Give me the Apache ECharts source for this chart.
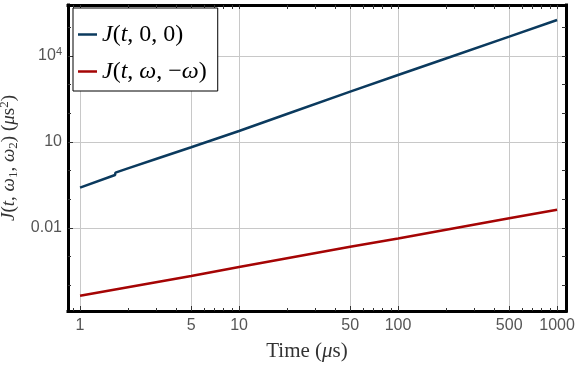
<!DOCTYPE html>
<html>
<head>
<meta charset="utf-8">
<script src="https://cdn.jsdelivr.net/npm/echarts@6/dist/echarts.min.js"></script>
<style>
  html, body { margin: 0; padding: 0; background: #fff; }
  #chart { width: 576px; height: 366px; }
</style>
</head>
<body>
<div id="chart"></div>
<script>
// values (log-log plot)
const blueTimes = [1, 1.66, 1.67, 2, 3, 5, 10, 20, 50, 100, 200, 500, 1000];
const blueValues = [0.255, 0.706, 0.849, 1.2, 2.54, 6.53, 24.2, 94.2, 569, 2173, 8166, 47100, 180000];
const redTimes = [1, 5, 10, 50, 100, 500, 1000];
const redValues = [4.3e-5, 2.12e-4, 4.37e-4, 2.23e-3, 4.3e-3, 0.0218, 0.043];

const xMajorTicks = [1, 5, 10, 50, 100, 500, 1000];
const xMinorTicks = [0.9, 2, 3, 4, 6, 7, 8, 9, 20, 30, 40, 60, 70, 80, 90,
  200, 300, 400, 600, 700, 800, 900];
const yMajorTicks = [0.01, 10, 1e4];
const yMajorLabels = ['0.01', '10', '{b|10}{s|4}'];
const yMinorTicks = [1e-4, 1e-3, 0.1, 1, 100, 1000, 1e5];

const seriesNames = ['J(t, 0, 0)', 'J(t, ω, −ω)'];

const xRange = [0.84, 1138];
const yRange = [1.27e-5, 6.0e5];

const lg = Math.log10;
const toLog = (xs, ys) => xs.map((x, i) => [lg(x), lg(ys[i])]);

const frame = { show: true, onZero: false, lineStyle: { color: '#000', width: 3, cap: 'square' } };
const labelColor = '#555';
const titleColor = '#333';
const serif = 'Liberation Serif';

const chart = echarts.init(document.getElementById('chart'));

const xBase = { type: 'value', min: lg(xRange[0]), max: lg(xRange[1]), gridIndex: 0 };
const yBase = { type: 'value', min: lg(yRange[0]), max: lg(yRange[1]), gridIndex: 0 };
const noLine = { show: false, onZero: false };

chart.setOption({
  animation: false,
  grid: { left: 68, right: 10, top: 5, bottom: 55, outerBoundsMode: 'none', containLabel: false },
  legend: {
    left: 73,
    top: 8,
    orient: 'vertical',
    backgroundColor: '#fff',
    borderColor: '#000',
    borderWidth: 1,
    borderRadius: 0,
    padding: [11, 11, 4, 5],
    itemGap: 6,
    itemWidth: 19,
    itemHeight: 2.5,
    icon: 'rect',
    formatter: function (name) {
      return name === seriesNames[0]
        ? '{i|J}({i|t}, 0, 0)'
        : '{i|J}({i|t}, {i|ω}, −{i|ω})';
    },
    textStyle: {
      fontFamily: serif,
      fontSize: 24,
      color: '#000',
      lineHeight: 31,
      rich: {
        i: { fontFamily: serif, fontSize: 24, fontStyle: 'italic', color: '#000', lineHeight: 31 }
      }
    },
    data: seriesNames
  },
  xAxis: [
    Object.assign({}, xBase, {
      position: 'bottom',
      name: 'Time ({i|μ}s)',
      nameLocation: 'middle',
      nameGap: 30,
      nameTextStyle: {
        fontFamily: serif, fontSize: 21, color: titleColor, padding: [0, 20, 0, 0],
        rich: { i: { fontFamily: serif, fontSize: 21, fontStyle: 'italic', color: titleColor } }
      },
      axisLine: frame,
      axisTick: { inside: true, length: 5, lineStyle: { color: '#333' }, customValues: xMajorTicks.map(lg) },
      axisLabel: {
        customValues: xMajorTicks.map(lg),
        margin: 7,
        color: labelColor,
        fontFamily: 'Liberation Sans',
        fontSize: 16,
        formatter: v => String(Math.round(Math.pow(10, v)))
      },
      splitLine: { show: true, lineStyle: { color: '#c8c8c8', width: 1 } }
    }),
    Object.assign({}, xBase, {
      position: 'bottom',
      axisLine: noLine,
      axisTick: { inside: true, length: 3, lineStyle: { color: '#333' }, customValues: xMinorTicks.map(lg) },
      axisLabel: { show: false, customValues: xMinorTicks.map(lg) },
      splitLine: { show: false }
    }),
    Object.assign({}, xBase, {
      position: 'top',
      axisLine: frame,
      axisTick: { inside: true, length: 4, lineStyle: { color: '#333' },
        customValues: xMajorTicks.concat(xMinorTicks).map(lg) },
      axisLabel: { show: false, customValues: xMajorTicks.map(lg) },
      splitLine: { show: false }
    })
  ],
  yAxis: [
    Object.assign({}, yBase, {
      position: 'left',
      name: '{i|J}({i|t}, {i|ω}{sub|1}, {i|ω}{sub|2}) ({i|μ}s{sup|2})',
      nameLocation: 'middle',
      nameGap: 46,
      nameTextStyle: {
        fontFamily: serif, fontSize: 19, color: titleColor, lineHeight: 22,
        rich: {
          i: { fontFamily: serif, fontSize: 19, fontStyle: 'italic', color: titleColor, lineHeight: 22 },
          sub: { fontFamily: serif, fontSize: 13, color: titleColor, verticalAlign: 'bottom', lineHeight: 22, padding: [6, 0, 0, 0] },
          sup: { fontFamily: serif, fontSize: 13, color: titleColor, verticalAlign: 'top', lineHeight: 22, padding: [0, 0, 6, 0] }
        }
      },
      axisLine: frame,
      axisTick: { inside: true, length: 5, lineStyle: { color: '#333' }, customValues: yMajorTicks.map(lg) },
      axisLabel: {
        customValues: yMajorTicks.map(lg),
        margin: 6,
        color: labelColor,
        fontFamily: 'Liberation Sans',
        fontSize: 16,
        formatter: function (v) {
          const i = yMajorTicks.findIndex(t => Math.abs(lg(t) - v) < 1e-6);
          return i >= 0 ? yMajorLabels[i] : '';
        },
        rich: {
          b: { fontFamily: 'Liberation Sans', fontSize: 16, color: labelColor, lineHeight: 20 },
          s: { fontFamily: 'Liberation Sans', fontSize: 11, color: labelColor, verticalAlign: 'top', lineHeight: 20, padding: [0, 0, 8, 0] }
        }
      },
      splitLine: { show: true, lineStyle: { color: '#c8c8c8', width: 1 } }
    }),
    Object.assign({}, yBase, {
      position: 'left',
      axisLine: noLine,
      axisTick: { inside: true, length: 3, lineStyle: { color: '#333' }, customValues: yMinorTicks.map(lg) },
      axisLabel: { show: false, customValues: yMinorTicks.map(lg) },
      splitLine: { show: false }
    }),
    Object.assign({}, yBase, {
      position: 'right',
      axisLine: frame,
      axisTick: { inside: true, length: 4, lineStyle: { color: '#333' },
        customValues: yMajorTicks.concat(yMinorTicks).map(lg) },
      axisLabel: { show: false, customValues: yMajorTicks.map(lg) },
      splitLine: { show: false }
    })
  ],
  series: [
    {
      name: seriesNames[0],
      type: 'line',
      xAxisIndex: 0,
      yAxisIndex: 0,
      symbol: 'none',
      lineStyle: { color: '#0b3a5e', width: 2.5 },
      itemStyle: { color: '#0b3a5e' },
      data: toLog(blueTimes, blueValues)
    },
    {
      name: seriesNames[1],
      type: 'line',
      xAxisIndex: 0,
      yAxisIndex: 0,
      symbol: 'none',
      lineStyle: { color: '#a50404', width: 2.5 },
      itemStyle: { color: '#a50404' },
      data: toLog(redTimes, redValues)
    }
  ]
});
</script>
</body>
</html>
